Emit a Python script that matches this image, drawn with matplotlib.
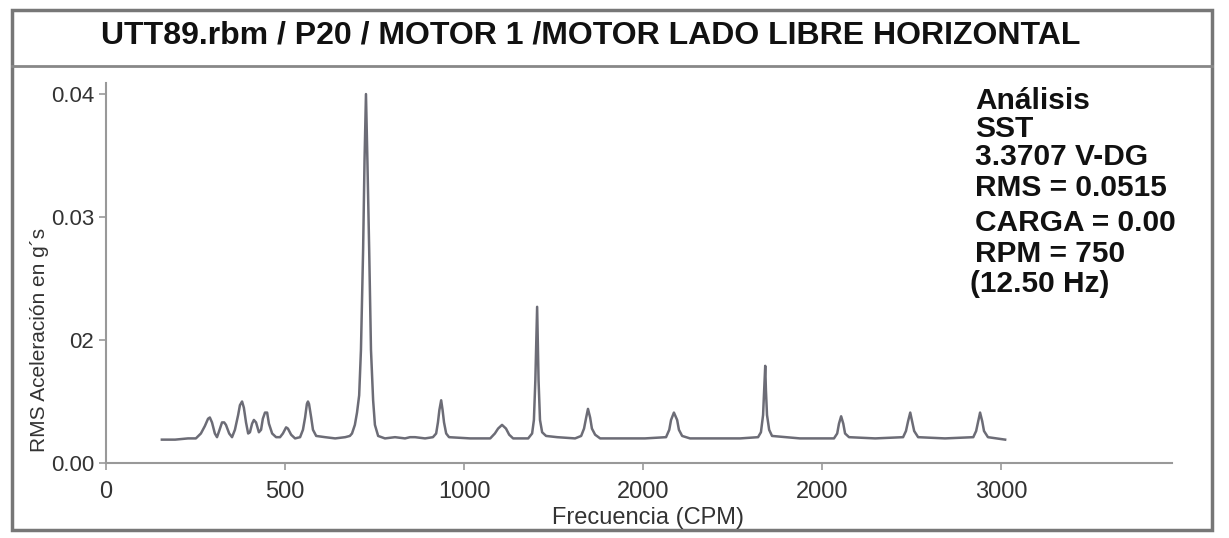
import matplotlib
matplotlib.use("Agg")
import matplotlib.pyplot as plt
from matplotlib.patches import Rectangle
from matplotlib.lines import Line2D

# spectrum (x in CPM, y in g's)
freq = [156, 193, 229, 251, 265, 276, 285, 290, 296, 304, 310, 316, 324, 330, 335, 344,
        352, 360, 369, 374, 380, 385, 391, 397, 402, 408, 413, 419, 427, 433, 438, 444,
        450, 455, 464, 475, 486, 494, 503, 508, 517, 528, 542, 550, 556, 561, 564, 567,
        573, 578, 587, 612, 640, 668, 681,
        687, 695, 701, 707, 712, 718, 722, 726, 730, 735, 740, 746, 751, 760,
        779, 807, 835, 849, 863, 891, 913, 922, 927, 931, 936, 940, 944, 950, 958,
        1017, 1073, 1086, 1095, 1106, 1117, 1126, 1137, 1179, 1190, 1195, 1199, 1204,
        1208, 1212, 1218, 1229, 1260, 1310, 1327, 1335, 1341, 1346, 1352, 1357, 1366,
        1380, 1436, 1505, 1564, 1573, 1578, 1586, 1595, 1600, 1609, 1631, 1687, 1771,
        1821, 1829, 1835, 1838, 1841, 1843, 1846, 1852, 1860, 1938, 2033, 2042, 2047,
        2053, 2059, 2064, 2075, 2148, 2226, 2234, 2240, 2246, 2251, 2257, 2268, 2343,
        2422, 2430, 2436, 2441, 2447, 2452, 2463, 2511]
amp = [0.0119, 0.0119, 0.0120, 0.0120, 0.0124, 0.0130, 0.0136, 0.0137, 0.0133, 0.0124,
       0.0121, 0.0126, 0.0133, 0.0133, 0.0131, 0.0124, 0.0121, 0.0127, 0.0139, 0.0147,
       0.0150, 0.0145, 0.0133, 0.0124, 0.0125, 0.0132, 0.0135, 0.0133, 0.0125, 0.0127,
       0.0136, 0.0141, 0.0141, 0.0132, 0.0124, 0.0121, 0.0121, 0.0124, 0.0129, 0.0128,
       0.0123, 0.0120, 0.0121, 0.0127, 0.0137, 0.0148, 0.0150, 0.0148, 0.0137, 0.0127,
       0.0122, 0.0121, 0.0120, 0.0121, 0.0122,
       0.0124, 0.0131, 0.0141, 0.0155, 0.0192, 0.0273, 0.0346, 0.0400, 0.0346, 0.0273,
       0.0192, 0.0151, 0.0131, 0.0122,
       0.0120, 0.0121, 0.0120, 0.0121, 0.0121, 0.0120, 0.0121, 0.0124, 0.0133, 0.0143,
       0.0151, 0.0143, 0.0133, 0.0124, 0.0121,
       0.0120, 0.0120, 0.0124, 0.0128, 0.0131, 0.0128, 0.0123, 0.0120, 0.0120, 0.0124,
       0.0135, 0.0167, 0.0227, 0.0167, 0.0135, 0.0125, 0.0122, 0.0121, 0.0120, 0.0122,
       0.0128, 0.0137, 0.0144, 0.0137, 0.0128, 0.0123, 0.0120, 0.0120, 0.0120, 0.0121,
       0.0127, 0.0135, 0.0141, 0.0135, 0.0127, 0.0122, 0.0120, 0.0120, 0.0120, 0.0121,
       0.0125, 0.0139, 0.0159, 0.0179, 0.0159, 0.0139, 0.0127, 0.0122, 0.0120, 0.0120,
       0.0124, 0.0132, 0.0138, 0.0132, 0.0124, 0.0121, 0.0120, 0.0121, 0.0126, 0.0134,
       0.0141, 0.0134, 0.0126, 0.0121, 0.0120, 0.0121, 0.0126, 0.0134, 0.0141, 0.0134,
       0.0126, 0.0121, 0.0119]

xticks = [0, 500, 1000, 1500, 2000, 2500]
xlabels = ["0", "500", "1000", "2000", "2000", "3000"]
yticks = [0.01, 0.02, 0.03, 0.04]
ylabels = ["0.00", "02", "0.03", "0.04"]

title = "UTT89.rbm / P20 / MOTOR 1 /MOTOR LADO LIBRE HORIZONTAL"
info = ["Análisis", "SST", "3.3707 V-DG", "RMS = 0.0515", "CARGA = 0.00",
        "RPM = 750", "(12.50 Hz)"]

plt.rcParams["font.family"] = ["Liberation Sans", "DejaVu Sans"]

fig = plt.figure(figsize=(12.29, 5.38), dpi=100)
W, H = 1229, 538

# outer frame and title box
fig.patches.append(Rectangle((12 / W, 1 - 530 / H), 1200 / W, 520 / H, transform=fig.transFigure,
                             fill=False, edgecolor="#777777", lw=2.5))
fig.lines.append(Line2D([12 / W, 1212 / W], [1 - 66 / H, 1 - 66 / H], transform=fig.transFigure,
                        color="#888888", lw=2))
fig.text(591 / W, 1 - 35 / H, title, ha="center", va="center", fontsize=23,
         fontweight="bold", color="#111111")

ax = fig.add_axes([106 / W, 1 - 463 / H, 1066 / W, 380 / H])
ax.plot(freq, amp, color="#6c6c76", lw=1.8)
ax.set_xlim(0, 2977)
ax.set_ylim(0.01, 0.0409)
ax.set_xticks(xticks)
ax.set_xticklabels(xlabels, fontsize=17, color="#333333")
ax.set_yticks(yticks)
ax.set_yticklabels(ylabels, fontsize=16, color="#333333")
for s in ["top", "right"]:
    ax.spines[s].set_visible(False)
for s in ["left", "bottom"]:
    ax.spines[s].set_color("#999999")
    ax.spines[s].set_linewidth(1.5)
ax.tick_params(axis="both", color="#999999", length=5, width=1.2)
ax.tick_params(axis="x", pad=8)

fig.text(648 / W, 1 - 518 / H, "Frecuencia (CPM)", ha="center", va="center",
         fontsize=17, color="#333333")
fig.text(40 / W, 1 - 340 / H, "RMS Aceleración en g´s", ha="center", va="center",
         rotation=90, fontsize=15, color="#333333")

info_y = [101, 129, 157, 188, 223, 254, 284]
info_x = [975, 975, 975, 975, 975, 975, 970]
for t, xx, yy in zip(info, info_x, info_y):
    fig.text(xx / W, 1 - yy / H, t, ha="left", va="center", fontsize=21.5,
             fontweight="bold", color="#111111")

fig.savefig("out.png", dpi=100)
